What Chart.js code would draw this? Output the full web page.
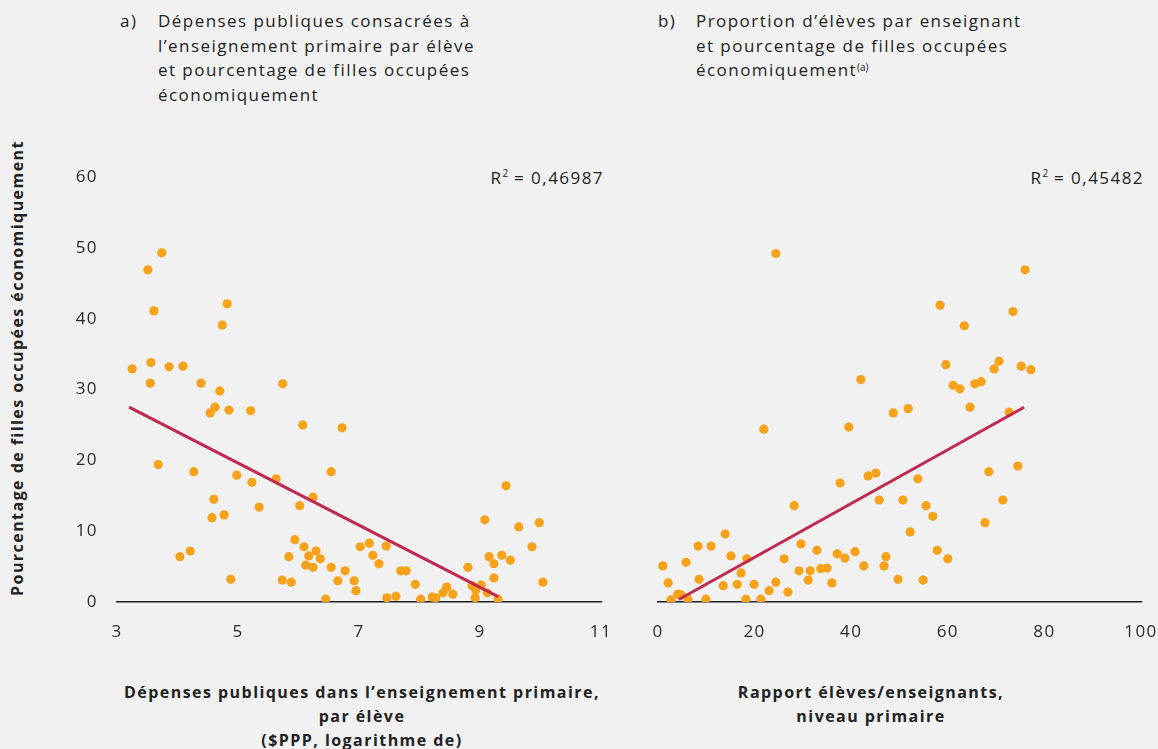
<!DOCTYPE html>
<html lang="fr">
<head>
<meta charset="utf-8">
<script src="https://cdn.jsdelivr.net/npm/chart.js@4/dist/chart.umd.min.js"></script>
<style>
  html, body { margin: 0; padding: 0; }
  body {
    width: 1158px; height: 749px; position: relative; overflow: hidden;
    background: #f1f1f1; font-family: "Open Sans", sans-serif; color: #222;
    letter-spacing: 1.45px;
  }
  .abs { position: absolute; }
  canvas.abs { display: block; }
  .title { font-size: 17px; line-height: 24.5px; }
  .title .tag { position: absolute; left: 0; top: 0; }
  .title .txt { position: absolute; top: 0; white-space: nowrap; }
  .xtitle { font-size: 16px; font-weight: 700; line-height: 24px; text-align: center; white-space: nowrap; }
  .r2 { font-size: 17px; white-space: nowrap; text-align: right; }
  .r2 sup { font-size: 10px; vertical-align: 7px; line-height: 0; letter-spacing: 0; }
  .ytitle {
    font-size: 16px; font-weight: 700; white-space: nowrap;
    transform: translate(-50%, -50%) rotate(-90deg); transform-origin: center;
  }
</style>
</head>
<body>
<div class="abs title" style="left:120px; top:9px; width:420px;">
  <span class="tag">a)</span>
  <span class="txt" style="left:38px;">Dépenses publiques consacrées à<br>l’enseignement primaire par élève<br>et pourcentage de filles occupées<br>économiquement</span>
</div>
<div class="abs title" style="left:658px; top:9px; width:420px;">
  <span class="tag">b)</span>
  <span class="txt" style="left:38px;">Proportion d’élèves par enseignant<br>et pourcentage de filles occupées<br>économiquement<sup style="font-size:10px;vertical-align:5px;line-height:0;letter-spacing:0;">(a)</sup></span>
</div>

<div class="abs ytitle" style="left:17px; top:368px;">Pourcentage de filles occupées économiquement</div>

<div class="abs r2" style="right:554px; top:166px;">R<sup>2</sup> = 0,46987</div>
<div class="abs r2" style="right:14px; top:166px;">R<sup>2</sup> = 0,45482</div>

<div class="abs xtitle" style="left:362px; top:680px; transform:translateX(-50%);">Dépenses publiques dans l’enseignement primaire,<br>par élève<br>($PPP, logarithme de)</div>
<div class="abs xtitle" style="left:871px; top:680px; transform:translateX(-50%);">Rapport élèves/enseignants,<br>niveau primaire</div>

<canvas id="chartA" class="abs" style="left:0; top:0;" width="620" height="749"></canvas>
<canvas id="chartB" class="abs" style="left:620px; top:0;" width="538" height="749"></canvas>

<script>
// Panel a: public spending per primary pupil (log of PPP $) vs % of girls economically active
const spendX = [3.25, 3.51, 3.74, 3.61, 3.56, 3.55, 3.68, 3.86, 4.09, 4.04, 4.21, 4.27, 4.39, 4.54, 4.62,
  4.70, 4.74, 4.82, 4.85, 4.60, 4.57, 4.77, 4.88, 4.98, 5.21, 5.23, 5.35, 5.63, 5.74, 5.73,
  5.84, 5.88, 5.94, 6.02, 6.07, 6.09, 6.12, 6.17, 6.24, 6.24, 6.29, 6.36, 6.45, 6.54, 6.54,
  6.65, 6.72, 6.77, 6.92, 6.95, 7.02, 7.17, 7.23, 7.33, 7.45, 7.46, 7.61, 7.69, 7.78, 7.93,
  8.02, 8.21, 8.27, 8.39, 8.45, 8.55, 8.80, 8.87, 8.93, 8.92, 9.02, 9.12, 9.08, 9.15, 9.23,
  9.23, 9.30, 9.36, 9.43, 9.50, 9.64, 9.86, 9.98, 10.04];
const spendGirls = [32.9, 46.9, 49.3, 41.1, 33.8, 30.9, 19.4, 33.2, 33.3, 6.4, 7.2, 18.4, 30.9, 26.7, 27.5,
  29.8, 39.1, 42.1, 27.1, 14.5, 11.9, 12.3, 3.2, 17.9, 27.0, 16.9, 13.4, 17.4, 30.8, 3.1,
  6.4, 2.8, 8.8, 13.6, 25.0, 7.8, 5.2, 6.5, 4.9, 14.8, 7.2, 6.1, 0.4, 4.9, 18.4,
  3.0, 24.6, 4.4, 3.0, 1.6, 7.8, 8.3, 6.6, 5.4, 7.9, 0.6, 0.8, 4.4, 4.4, 2.5,
  0.4, 0.7, 0.6, 1.3, 2.1, 1.1, 4.9, 2.3, 1.7, 0.6, 2.4, 1.3, 11.6, 6.4, 5.4,
  3.4, 0.4, 6.6, 16.4, 5.9, 10.6, 7.8, 11.2, 2.8];
const spendFitX = [3.2, 9.3];
const spendFitY = [27.5, 0.75];
const spendTicks = [3, 5, 7, 9, 11];

// Panel b: pupil/teacher ratio in primary vs % of girls economically active
const ratioX = [1.0, 2.1, 2.7, 4.1, 4.8, 5.8, 6.2, 8.3, 8.5, 9.9, 11.0, 13.9, 13.5, 15.1, 16.4,
  17.2, 18.4, 18.2, 19.9, 21.3, 21.9, 23.0, 24.4, 24.4, 26.1, 26.9, 28.2, 29.2, 29.6, 31.1,
  31.5, 32.9, 33.7, 35.0, 36.0, 37.1, 37.7, 38.7, 39.5, 40.8, 42.0, 42.6, 43.5, 45.1, 45.8,
  46.8, 47.2, 48.7, 49.7, 50.7, 51.8, 52.2, 53.8, 54.9, 55.5, 56.9, 57.8, 58.4, 59.6, 60.0,
  61.1, 62.5, 63.4, 64.6, 65.6, 66.9, 67.7, 68.5, 69.6, 70.6, 71.4, 72.7, 73.5, 74.5, 75.2,
  76.0, 77.2];
const ratioGirls = [5.1, 2.7, 0.3, 1.1, 1.0, 5.6, 0.4, 7.9, 3.2, 0.4, 7.9, 9.6, 2.3, 6.5, 2.5,
  4.1, 6.1, 0.4, 2.5, 0.4, 24.4, 1.6, 2.8, 49.2, 6.1, 1.4, 13.6, 4.4, 8.2, 3.1,
  4.4, 7.3, 4.7, 4.8, 2.7, 6.8, 16.8, 6.2, 24.7, 7.1, 31.4, 5.1, 17.8, 18.2, 14.4,
  5.1, 6.4, 26.7, 3.2, 14.4, 27.3, 9.9, 17.4, 3.1, 13.6, 12.1, 7.3, 41.9, 33.5, 6.1,
  30.6, 30.1, 39.0, 27.5, 30.8, 31.1, 11.2, 18.4, 32.9, 34.0, 14.4, 26.8, 41.0, 19.2, 33.3,
  46.9, 32.8];
const ratioFitX = [4.3, 75.8];
const ratioFitY = [0.35, 27.5];
const ratioTicks = [0, 20, 40, 60, 80, 100];

const yTicks = [0, 10, 20, 30, 40, 50, 60];

const DOT = '#f7a21b';
const FIT = '#c0294f';
const TICK_FONT = { family: '"Open Sans", sans-serif', size: 17 };

// wider tracking for the canvas tick labels
const tracking = {
  id: 'tracking',
  beforeInit(chart) { chart.ctx.letterSpacing = '1.5px'; }
};

function pairs(xs, ys) { return xs.map((x, i) => ({ x, y: ys[i] })); }

function makeChart(id, xs, ys, fx, fy, xTicks, opts) {
  return new Chart(document.getElementById(id), {
    type: 'scatter',
    plugins: [tracking],
    data: {
      datasets: [
        {
          type: 'line', data: pairs(fx, fy), borderColor: FIT, borderWidth: 3,
          pointRadius: 0, fill: false, order: 0, borderCapStyle: 'butt'
        },
        {
          data: pairs(xs, ys), backgroundColor: DOT, borderColor: DOT, borderWidth: 0,
          pointRadius: 4.6, pointHoverRadius: 4.6, order: 1
        }
      ]
    },
    options: {
      responsive: false, animation: false, events: [],
      layout: { padding: opts.padding },
      plugins: { legend: { display: false }, tooltip: { enabled: false } },
      scales: {
        x: {
          type: 'linear', min: xTicks[0], max: xTicks[xTicks.length - 1],
          afterBuildTicks: s => { s.ticks = xTicks.map(v => ({ value: v })); },
          grid: { display: false, drawTicks: false },
          border: { display: true, color: '#1e1e1e', width: 1.5 },
          ticks: { color: '#2a2a2a', font: TICK_FONT, padding: 20, autoSkip: false, maxRotation: 0 },
          afterFit: s => { s.height = 147; s.paddingLeft = 0; s.paddingRight = 0; }
        },
        y: {
          type: 'linear', min: 0, max: 60, display: opts.showY,
          afterBuildTicks: s => { s.ticks = yTicks.map(v => ({ value: v })); },
          grid: { display: false, drawTicks: false },
          border: { display: false },
          ticks: { color: '#2a2a2a', font: TICK_FONT, padding: 19 },
          afterFit: s => { if (opts.showY) s.width = 117; }
        }
      }
    }
  });
}

makeChart('chartA', spendX, spendGirls, spendFitX, spendFitY, spendTicks,
  { padding: { top: 177, right: 19, left: 0, bottom: 0 }, showY: true });
makeChart('chartB', ratioX, ratioGirls, ratioFitX, ratioFitY, ratioTicks,
  { padding: { top: 177, right: 17, left: 38, bottom: 0 }, showY: false });
</script>
</body>
</html>
